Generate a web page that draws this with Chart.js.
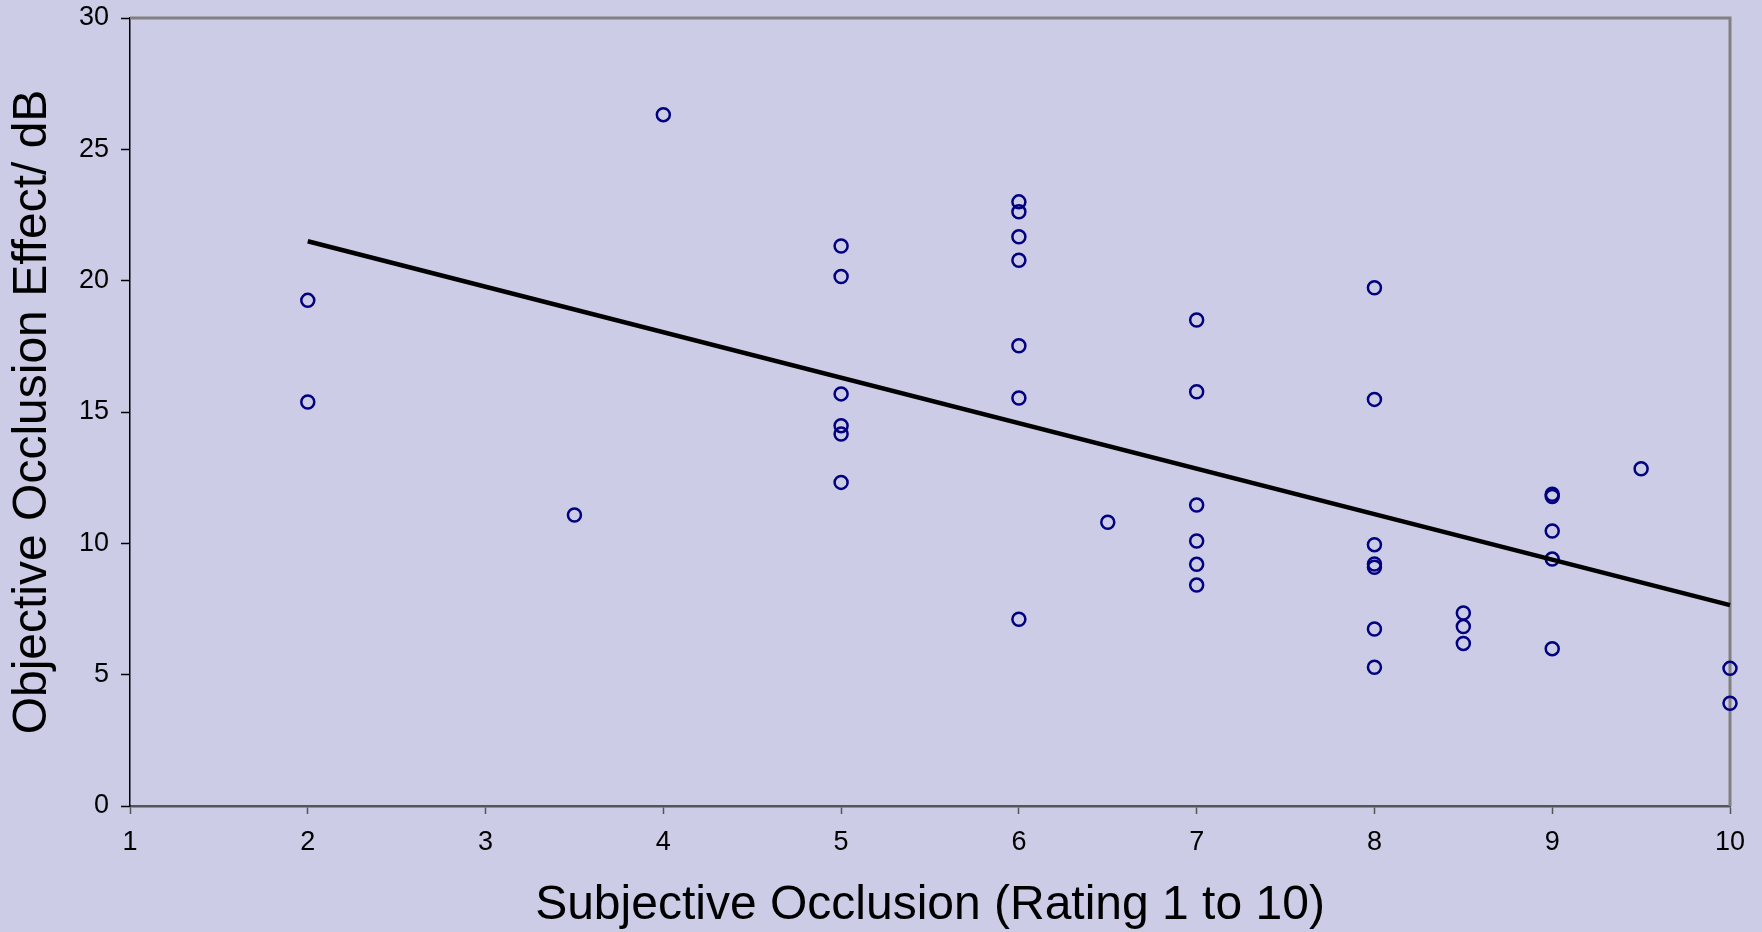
<!DOCTYPE html>
<html>
<head>
<meta charset="utf-8">
<title>Subjective vs Objective Occlusion</title>
<script src="https://cdn.jsdelivr.net/npm/chart.js@4/dist/chart.umd.min.js"></script>
<style>
  html, body { margin: 0; padding: 0; background: #CCCCE6; }
  #wrap { width: 1762px; height: 932px; position: relative; }
</style>
</head>
<body>
<div id="wrap"><canvas id="chart"></canvas></div>
<script>
"use strict";

// Subjective rating (x) and objective occlusion effect in dB (y), one entry per listener
const subjectiveRating = [
  2, 2,
  3.5,
  4,
  5, 5, 5, 5, 5, 5,
  6, 6, 6, 6, 6, 6, 6,
  6.5,
  7, 7, 7, 7, 7, 7,
  8, 8, 8, 8, 8, 8, 8,
  8.5, 8.5, 8.5,
  9, 9, 9, 9, 9,
  9.5,
  10, 10,
];
const objectiveEffect = [
  19.25, 15.38,
  11.08,
  26.32,
  21.32, 20.16, 15.69, 14.48, 14.16, 12.32,
  23.00, 22.62, 21.67, 20.78, 17.52, 15.53, 7.11,
  10.80,
  18.50, 15.77, 11.46, 10.09, 9.20, 8.41,
  19.73, 15.48, 9.95, 9.21, 9.09, 6.74, 5.28,
  7.35, 6.83, 6.19,
  11.87, 11.78, 10.47, 9.40, 5.99,
  12.84,
  5.24, 3.91,
];

// Linear trend line end points
const trendX = [2, 10];
const trendY = [21.5, 7.65];

// Axis ranges / tick steps
const X_MIN = 1, X_MAX = 10, X_STEP = 1;
const Y_MIN = 0, Y_MAX = 30, Y_STEP = 5;

const C = {
  marker: "#000080",
  trend:  "#000000",
  frame:  "#808080",
  axisY:  "#000000",
  axisX:  "#555555",
  text:   "#000000",
};
const FONT = "'Liberation Sans', Arial, sans-serif";

const points = subjectiveRating.map((x, i) => ({ x, y: objectiveEffect[i] }));
const trend  = trendX.map((x, i) => ({ x, y: trendY[i] }));

// Grey frame on the top and right edges of the plot area
const framePlugin = {
  id: "frame",
  beforeDatasetsDraw(chart) {
    const { ctx, chartArea: a } = chart;
    ctx.save();
    ctx.strokeStyle = C.frame;
    ctx.lineWidth = 3;
    ctx.beginPath();
    ctx.moveTo(a.left, a.top);
    ctx.lineTo(a.right, a.top);
    ctx.lineTo(a.right, a.bottom);
    ctx.stroke();
    ctx.restore();
  },
};

new Chart(document.getElementById("chart"), {
  type: "scatter",
  data: {
    datasets: [
      {
        label: "Trend",
        data: trend,
        showLine: true,
        borderColor: C.trend,
        borderWidth: 4.5,
        pointRadius: 0,
        fill: false,
        clip: false,
      },
      {
        label: "Listeners",
        data: points,
        pointStyle: "circle",
        pointRadius: 6.5,
        pointBorderWidth: 2.5,
        pointBorderColor: C.marker,
        pointBackgroundColor: "rgba(0,0,0,0)",
        showLine: false,
        clip: false,
      },
    ],
  },
  options: {
    responsive: true,
    maintainAspectRatio: false,
    animation: false,
    layout: { padding: { top: 18, right: 32, left: 0, bottom: 0 } },
    plugins: {
      legend: { display: false },
      tooltip: { enabled: false },
    },
    scales: {
      x: {
        type: "linear",
        min: X_MIN,
        max: X_MAX,
        afterFit: (s) => {
          s.height = 126;
          s.paddingLeft = 0;
          s.paddingRight = 0;
        },
        afterBuildTicks: (s) => {
          s.ticks = [];
          for (let v = X_MIN; v <= X_MAX; v += X_STEP) s.ticks.push({ value: v });
        },
        grid: {
          drawOnChartArea: false,
          drawTicks: true,
          tickLength: 8,
          tickColor: C.axisX,
          tickWidth: 1.5,
        },
        border: { display: true, color: C.axisX, width: 2.5 },
        ticks: {
          color: C.text,
          font: { family: FONT, size: 27 },
          padding: 12,
          maxRotation: 0,
        },
        title: {
          display: true,
          text: "Subjective Occlusion (Rating 1 to 10)",
          color: C.text,
          font: { family: FONT, size: 48, lineHeight: 1.1 },
          padding: { top: 0, bottom: 0 },
        },
      },
      y: {
        type: "linear",
        min: Y_MIN,
        max: Y_MAX,
        afterFit: (s) => {
          s.width = 130;
          s.paddingTop = 0;
          s.paddingBottom = 0;
        },
        afterBuildTicks: (s) => {
          s.ticks = [];
          for (let v = Y_MIN; v <= Y_MAX; v += Y_STEP) s.ticks.push({ value: v });
        },
        grid: {
          drawOnChartArea: false,
          drawTicks: true,
          tickLength: 9,
          tickColor: C.axisY,
          tickWidth: 1.5,
        },
        border: { display: true, color: C.axisY, width: 1.5 },
        ticks: {
          color: C.text,
          font: { family: FONT, size: 27 },
          padding: 12,
        },
        title: {
          display: true,
          text: "Objective Occlusion Effect/ dB",
          color: C.text,
          font: { family: FONT, size: 48, lineHeight: 1.1 },
          padding: { top: 6, bottom: 0 },
        },
      },
    },
  },
  plugins: [framePlugin],
});
</script>
</body>
</html>
